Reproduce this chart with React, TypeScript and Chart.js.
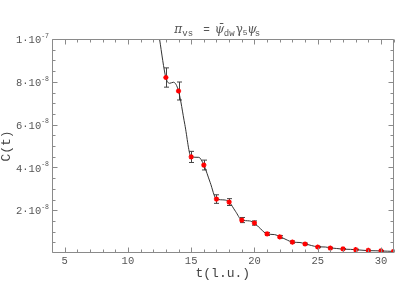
import React, { useEffect, useRef } from "react";
import { Chart, registerables } from "chart.js";

Chart.register(...registerables);

// Measured correlator points
const tValues = [13, 14, 15, 16, 17, 18, 19, 20, 21, 22, 23, 24, 25, 26, 27, 28, 29, 30, 31];
const cValues = [
  8.2e-8, 7.57e-8, 4.49e-8, 4.11e-8, 2.52e-8, 2.38e-8, 1.54e-8, 1.4e-8, 0.89e-8, 0.75e-8,
  0.51e-8, 0.42e-8, 0.28e-8, 0.23e-8, 0.19e-8, 0.16e-8, 0.12e-8, 0.1e-8, 0.08e-8,
];
const cErrors = [
  0.45e-8, 0.42e-8, 0.26e-8, 0.23e-8, 0.2e-8, 0.16e-8, 0.12e-8, 0.1e-8, 0.07e-8, 0.06e-8,
  0.05e-8, 0.04e-8, 0.03e-8, 0.03e-8, 0.02e-8, 0.02e-8, 0.02e-8, 0.02e-8, 0.02e-8,
];

// Fit curve
const fitT = [
  12.2, 12.5, 13, 13.3, 13.6, 14, 14.5, 15, 15.6, 16, 16.5, 17, 17.6, 18, 18.5, 19, 19.6, 20,
  20.5, 21, 21.6, 22, 22.5, 23, 23.6, 24, 24.5, 25, 25.6, 26, 26.5, 27, 27.6, 28, 28.5, 29, 29.6,
  30, 30.5, 31,
];
const fitC = [
  1.12e-7, 1.0e-7, 8.2e-8, 7.93e-8, 7.98e-8, 7.57e-8, 6.0e-8, 4.49e-8, 4.47e-8, 4.11e-8, 3.3e-8,
  2.52e-8, 2.48e-8, 2.38e-8, 1.95e-8, 1.54e-8, 1.5e-8, 1.4e-8, 1.12e-8, 0.89e-8, 0.86e-8,
  0.77e-8, 0.63e-8, 0.51e-8, 0.49e-8, 0.43e-8, 0.35e-8, 0.29e-8, 0.28e-8, 0.24e-8, 0.21e-8,
  0.18e-8, 0.17e-8, 0.155e-8, 0.13e-8, 0.11e-8, 0.105e-8, 0.095e-8, 0.085e-8, 0.075e-8,
];

// Axes
const xMin = 4;
const xMax = 31;
const yMin = 0;
const yMax = 1e-7;
const xMajorTicks = [5, 10, 15, 20, 25, 30];
const yTickValues = [2e-8, 4e-8, 6e-8, 8e-8, 1e-7];
const yTickMantissas = ["2", "4", "6", "8", "1"];
const yTickExponents = ["-8", "-8", "-8", "-8", "-7"];

const MONO = "'Liberation Mono', 'DejaVu Sans Mono', monospace";
const SERIF = "'DejaVu Serif', 'Liberation Serif', serif";
const AXIS_COLOR = "#8a8a8a";
const TEXT_COLOR = "#555";

const errorBarPlugin = {
  id: "errorBars",
  beforeDatasetsDraw(chart: any) {
    const { ctx, chartArea: a, scales } = chart;
    const x = scales.x;
    const y = scales.y;
    ctx.save();
    ctx.beginPath();
    ctx.rect(a.left, a.top, a.right - a.left, a.bottom - a.top);
    ctx.clip();
    ctx.strokeStyle = "#444";
    ctx.lineWidth = 1;
    for (let i = 0; i < tValues.length; i++) {
      const px = Math.round(x.getPixelForValue(tValues[i])) + 0.5;
      const yHi = y.getPixelForValue(cValues[i] + cErrors[i]);
      const yLo = y.getPixelForValue(cValues[i] - cErrors[i]);
      ctx.beginPath();
      ctx.moveTo(px, yHi);
      ctx.lineTo(px, yLo);
      ctx.moveTo(px - 2.5, yHi);
      ctx.lineTo(px + 2.5, yHi);
      ctx.moveTo(px - 2.5, yLo);
      ctx.lineTo(px + 2.5, yLo);
      ctx.stroke();
    }
    ctx.restore();
  },
};

const framePlugin = {
  id: "frame",
  afterDatasetsDraw(chart: any) {
    const { ctx, chartArea: a, scales } = chart;
    const x = scales.x;
    const y = scales.y;
    ctx.save();
    ctx.strokeStyle = AXIS_COLOR;
    ctx.lineWidth = 1;
    const L = Math.round(a.left) + 0.5;
    const R = Math.round(a.right) - 0.5;
    const T = Math.round(a.top) + 0.5;
    const B = Math.round(a.bottom) - 0.5;
    ctx.beginPath();
    ctx.moveTo(L, T);
    ctx.lineTo(R, T);
    ctx.lineTo(R, B);
    ctx.lineTo(L, B);
    ctx.closePath();
    ctx.stroke();
    ctx.beginPath();
    for (let t = Math.ceil(xMin); t <= xMax; t++) {
      const px = Math.round(x.getPixelForValue(t)) + 0.5;
      const len = xMajorTicks.includes(t) ? 5 : 3;
      ctx.moveTo(px, B);
      ctx.lineTo(px, B - len);
      ctx.moveTo(px, T);
      ctx.lineTo(px, T + len);
    }
    for (let k = 1; k <= 20; k++) {
      const v = k * 0.5e-8;
      if (v > yMax + 1e-12) break;
      const py = Math.round(y.getPixelForValue(v)) + 0.5;
      const len = k % 4 === 0 ? 5 : 3;
      ctx.moveTo(L, py);
      ctx.lineTo(L + len, py);
      ctx.moveTo(R, py);
      ctx.lineTo(R - len, py);
    }
    ctx.stroke();

    // y tick labels with superscript exponents
    ctx.fillStyle = TEXT_COLOR;
    ctx.textBaseline = "middle";
    ctx.textAlign = "right";
    const rightEdge = a.left - 3;
    yTickValues.forEach((v, i) => {
      const py = y.getPixelForValue(v);
      ctx.font = `6.5px ${MONO}`;
      const expText = yTickExponents[i];
      const ew = ctx.measureText(expText).width;
      ctx.fillText(expText, rightEdge, py - 3);
      ctx.font = `10.5px ${MONO}`;
      ctx.fillText(yTickMantissas[i] + "·10", rightEdge - ew, py + 1.5);
    });
    ctx.restore();
  },
};

type Run = { text: string; font: string; x: number; y: number };

const titlePlugin = {
  id: "mathTitle",
  afterDraw(chart: any) {
    const { ctx, chartArea: a } = chart;
    // offsets relative to the centre of the plot area
    const c = (a.left + a.right) / 2;
    const runs: Run[] = [
      { text: "π", font: `italic 12px ${SERIF}`, x: -48.5, y: 33 },
      { text: "vs", font: `9px ${MONO}`, x: -40.5, y: 35.5 },
      { text: "=", font: `11px ${MONO}`, x: -19.5, y: 33 },
      { text: "ψ̄", font: `italic 12px ${SERIF}`, x: -8, y: 33 },
      { text: "dw", font: `9px ${MONO}`, x: 1, y: 35.5 },
      { text: "γ", font: `12px ${SERIF}`, x: 13, y: 33 },
      { text: "5", font: `8px ${MONO}`, x: 20, y: 34.5 },
      { text: "ψ", font: `italic 12px ${SERIF}`, x: 24.5, y: 33 },
      { text: "s", font: `9px ${MONO}`, x: 32, y: 35.5 },
    ];
    ctx.save();
    ctx.fillStyle = TEXT_COLOR;
    ctx.textBaseline = "alphabetic";
    ctx.textAlign = "left";
    for (const r of runs) {
      ctx.font = r.font;
      ctx.fillText(r.text, c + r.x, r.y);
    }
    ctx.restore();
  },
};

export default function App() {
  const canvasRef = useRef<HTMLCanvasElement | null>(null);

  useEffect(() => {
    document.body.style.margin = "0";
    const canvas = canvasRef.current;
    if (!canvas) return;
    const chart = new Chart(canvas, {
      type: "scatter",
      data: {
        datasets: [
          {
            label: "data",
            data: tValues.map((t, i) => ({ x: t, y: cValues[i] })),
            pointStyle: "star",
            pointRadius: 2.6,
            pointBorderWidth: 1.4,
            borderColor: "#ff0000",
            backgroundColor: "#ff0000",
            showLine: false,
          },
          {
            label: "fit",
            data: fitT.map((t, i) => ({ x: t, y: fitC[i] })),
            showLine: true,
            pointRadius: 0,
            borderColor: "#333",
            borderWidth: 1,
            cubicInterpolationMode: "monotone",
          },
        ],
      },
      options: {
        animation: false,
        responsive: false,
        events: [],
        layout: { padding: { top: 39, left: 0, right: 0, bottom: 0 } },
        plugins: {
          legend: { display: false },
          tooltip: { enabled: false },
          title: { display: false },
        },
        scales: {
          x: {
            type: "linear",
            min: xMin,
            max: xMax,
            grid: { display: false, drawTicks: false },
            border: { display: false },
            ticks: {
              stepSize: 1,
              autoSkip: false,
              maxRotation: 0,
              padding: 2,
              color: TEXT_COLOR,
              font: { family: MONO, size: 10.5 },
              callback: (v: any) => (xMajorTicks.includes(Number(v)) ? String(v) : ""),
            },
            title: {
              display: true,
              text: "t(l.u.)",
              color: "#444",
              font: { family: MONO, size: 13 },
              padding: { top: 0, bottom: 18 },
            },
            afterFit: (s: any) => {
              s.height = 46;
            },
          },
          y: {
            type: "linear",
            min: yMin,
            max: yMax,
            grid: { display: false, drawTicks: false },
            border: { display: false },
            ticks: { display: false, stepSize: 2e-8 },
            title: {
              display: true,
              text: "C(t)",
              color: "#444",
              font: { family: MONO, size: 13 },
              padding: { top: -1, bottom: 0 },
            },
            afterFit: (s: any) => {
              s.width = 52;
            },
          },
        },
      },
      plugins: [errorBarPlugin, framePlugin, titlePlugin],
    } as any);
    return () => chart.destroy();
  }, []);

  return (
    <div style={{ width: 399, height: 299 }}>
      <canvas ref={canvasRef} width={399} height={299} style={{ display: "block" }} />
    </div>
  );
}
